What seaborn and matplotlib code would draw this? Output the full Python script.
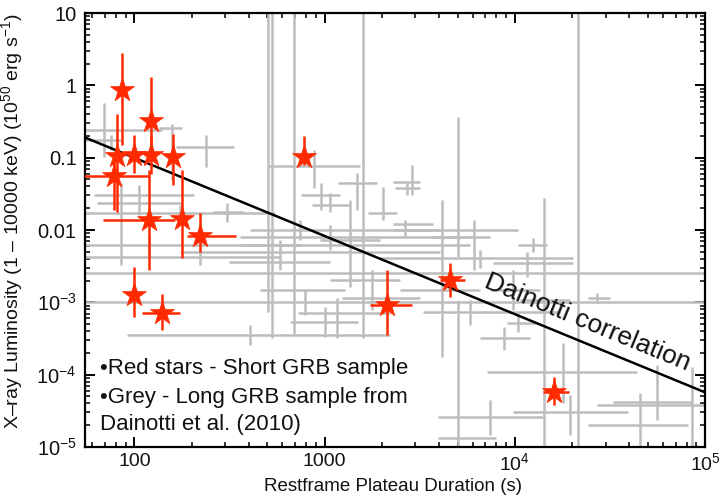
import numpy as np
import pandas as pd
import matplotlib
matplotlib.use("Agg")
import matplotlib.pyplot as plt
import seaborn as sns
from matplotlib.ticker import FixedLocator, LogLocator, NullFormatter, FixedFormatter

# ---------------- data ----------------
# Short GRB sample (red stars): plateau duration T (s) and luminosity L (1e50 erg/s)
short_T    = [86.5, 123, 81.5, 99, 123, 160, 78.5, 120, 179, 220, 99, 140, 775, 2120, 4550, 16000]
short_T_lo = [86.5, 123, 81.5, 99, 123, 160, 45, 68, 179, 188, 99, 109, 760, 1730, 4030, 14000]
short_T_hi = [86.5, 123, 81.5, 99, 123, 160, 120, 163, 179, 344, 99, 173, 790, 2870, 5450, 19200]
short_L    = [0.86, 0.32, 0.105, 0.109, 0.109, 0.102, 0.056, 0.0137, 0.0142, 0.0082, 0.00126, 0.00071, 0.102, 0.00091, 0.00203, 5.7e-5]
short_L_lo = [0.15, 0.13, 0.018, 0.061, 0.06, 0.042, 0.019, 0.0028, 0.0041, 0.0049, 0.00062, 0.00041, 0.079, 0.00035, 0.00118, 3.8e-5]
short_L_hi = [2.83, 1.30, 0.40, 0.206, 0.20, 0.212, 0.10, 0.068, 0.068, 0.017, 0.00307, 0.0013, 0.199, 0.0028, 0.0035, 9.2e-5]

# Long GRB sample (grey crosses), Dainotti et al. (2010)
long_T    = [69.5, 75.7, 158, 237, 106, 85.5, 173, 308, 120, 220, 21500, 785, 502, 532, 687, 1585,
             5015, 14200, 45489, 55900, 85500, 5015, 4130, 17900, 8750, 10400, 9770, 27000, 11560,
             12450, 6080, 2870, 2700, 2020, 2640, 1473, 953, 1063, 875, 1355, 739, 1063, 580, 1156,
             1000, 403, 1767, 5797, 7387, 19476, 6544]
long_T_lo = [30, 30, 135, 166, 61.6, 63.8, 30, 258, 30, 30, 30, 30, 357, 316, 455, 1063,
             3571, 10626, 24200, 32800, 27000, 3935, 2483, 7130, 6544, 9080, 7387, 24200, 7660,
             10400, 2280, 2280, 2335, 1685, 2280, 1170, 748, 855, 502, 942, 403, 357, 173, 655,
             721, 91.8, 1228, 3280, 3935, 9770, 1948]
long_T_hi = [139, 85.5, 177, 336, 207, 177, 546, 379, 5797, 580, 2e5, 2e5, 739, 1063, 1274, 2483,
             7387, 19476, 81500, 85500, 2e5, 7950, 6544, 43800, 11995, 13060, 13540, 31600, 20200,
             14700, 10400, 3163, 3163, 2390, 3700, 1878, 1200, 1355, 1529, 1948, 4030, 5797, 4030, 1493,
             2199, 2199, 3163, 17254, 14000, 39300, 20200]
long_L    = [0.241, 0.175, 0.256, 0.140, 0.0304, 0.0236, 0.0171, 0.0177, 0.00618, 0.00422, 0.00254, 0.00101,
             0.00618, 0.0036, 0.00148, 0.00203, 0.00798, 0.00107, 2.0e-5, 4.17e-5, 3.8e-5, 1.32e-5, 0.00148,
             1.08e-4, 3.2e-4, 5.15e-4, 0.00148, 0.00114, 0.00348, 0.00618, 0.00998, 0.046, 0.038, 0.0171,
             0.0120, 0.0446, 0.0304, 0.0221, 0.0766, 0.00725, 0.00998, 0.00798, 0.00494, 5.3e-4, 7.1e-4,
             3.5e-4, 0.00114, 7.3e-4, 2.58e-5, 3.03e-5, 0.00408]
long_L_lo = [0.102, 0.127, 0.049, 0.074, 0.0161, 0.00327, 0.0128, 0.0128, 0.0045, 0.00327, 5e-6, 6.65e-4,
             7.3e-4, 3.2e-4, 3.5e-4, 3.2e-4, 0.00422, 5e-6, 5e-6, 2.35e-5, 5e-6, 5e-6, 1.75e-4,
             4.0e-5, 2.18e-4, 3.87e-4, 7.8e-4, 9.7e-4, 0.00223, 0.00494, 0.00279, 0.0304, 0.0304, 0.0137,
             0.00798, 0.0189, 0.0189, 0.0177, 0.038, 0.00162, 0.00725, 0.00527, 0.00279, 3.2e-4, 3.3e-4,
             2.56e-4, 7.8e-4, 4.84e-4, 1.46e-5, 1.46e-5, 0.00297]
long_L_hi = [0.57, 0.206, 0.29, 0.206, 0.042, 0.0446, 0.0221, 0.0236, 0.0085, 0.00527, 30, 0.00148,
             30, 30, 30, 30, 0.365, 0.0276, 5.5e-5, 1.35e-4, 1.27e-4, 0.00107, 0.0259,
             2.73e-4, 4.5e-4, 7.1e-4, 0.00279, 0.00134, 0.00494, 0.00773, 0.0137, 0.079, 0.0446, 0.039,
             0.0137, 0.0612, 0.0446, 0.0324, 0.127, 0.0259, 0.0137, 0.0117, 0.00725, 0.00114, 8.6e-4,
             4.84e-4, 0.00279, 0.00107, 4.4e-5, 5.2e-5, 0.00527]

# Dainotti correlation line (end points)
line_T = [55, 1e5]
line_L = [0.19, 5.7e-5]

x_ticks = [100, 1000, 1e4, 1e5]
x_tick_labels = ["100", "1000", "10$^4$", "10$^5$"]
y_ticks = [1e-5, 1e-4, 1e-3, 1e-2, 1e-1, 1, 10]
y_tick_labels = ["10$^{-5}$", "10$^{-4}$", "10$^{-3}$", "0.01", "0.1", "1", "10"]

legend_lines = ["\u2022Red stars - Short GRB sample",
                "\u2022Grey - Long GRB sample from",
                "Dainotti et al. (2010)"]

# ---------------- style ----------------
sns.set_theme(style="ticks")
plt.rcParams["font.family"] = ["Liberation Sans", "DejaVu Sans"]
plt.rcParams["mathtext.fontset"] = "custom"
plt.rcParams["mathtext.rm"] = "Liberation Sans"
plt.rcParams["mathtext.it"] = "Liberation Sans:italic"
plt.rcParams["mathtext.bf"] = "Liberation Sans:bold"
plt.rcParams["axes.unicode_minus"] = True

RED = "#ff2a00"
GREY = "#bdbdbd"

fig = plt.figure(figsize=(7.21, 4.98), dpi=100)
ax = fig.add_axes([85 / 721, 1 - 447 / 498, 620 / 721, 434 / 498])
ax.set_xscale("log")
ax.set_yscale("log")

long_df = pd.DataFrame({"T": long_T, "Tlo": long_T_lo, "Thi": long_T_hi,
                        "L": long_L, "Llo": long_L_lo, "Lhi": long_L_hi})
short_df = pd.DataFrame({"T": short_T, "Tlo": short_T_lo, "Thi": short_T_hi,
                         "L": short_L, "Llo": short_L_lo, "Lhi": short_L_hi})

def asym(df):
    xerr = np.vstack([df["T"] - df["Tlo"], df["Thi"] - df["T"]])
    yerr = np.vstack([df["L"] - df["Llo"], df["Lhi"] - df["L"]])
    return xerr, yerr

xe, ye = asym(long_df)
ax.errorbar(long_df["T"], long_df["L"], xerr=xe, yerr=ye, fmt="none",
            ecolor=GREY, elinewidth=1.8, capsize=0, zorder=1)

sns.lineplot(x=line_T, y=line_L, color="black", linewidth=1.8, ax=ax, zorder=3,
             estimator=None, sort=False)

xe, ye = asym(short_df)
ax.errorbar(short_df["T"], short_df["L"], xerr=xe, yerr=ye, fmt="none",
            ecolor=RED, elinewidth=1.8, capsize=0, zorder=4)
sns.scatterplot(data=short_df, x="T", y="L", marker="*", s=330, color=RED,
                edgecolor=RED, linewidth=0.5, ax=ax, zorder=5, legend=False)

ax.set_xlim(55, 1e5)
ax.set_ylim(1e-5, 10)

ax.xaxis.set_major_locator(FixedLocator(x_ticks))
ax.xaxis.set_major_formatter(FixedFormatter(x_tick_labels))
ax.xaxis.set_minor_locator(LogLocator(base=10, subs=np.arange(2, 10)))
ax.xaxis.set_minor_formatter(NullFormatter())
ax.yaxis.set_major_locator(FixedLocator(y_ticks))
ax.yaxis.set_major_formatter(FixedFormatter(y_tick_labels))
ax.yaxis.set_minor_locator(LogLocator(base=10, subs=np.arange(2, 10)))
ax.yaxis.set_minor_formatter(NullFormatter())

ax.tick_params(which="both", direction="in", top=True, right=True, color="black",
               labelcolor="#111111")
ax.tick_params(which="major", length=7, width=1.4)
ax.tick_params(which="minor", length=3.5, width=1.1)
ax.tick_params(axis="x", which="major", pad=4, labelsize=14)
ax.tick_params(axis="y", which="major", pad=6, labelsize=14.5)
for s in ax.spines.values():
    s.set_linewidth(1.6)
    s.set_color("black")

ax.set_xlabel("Restframe Plateau Duration (s)", fontsize=13.5, color="#111111")
ax.set_ylabel("X\u2013ray Luminosity (1 \u2013 10000 keV) (10$^{50}$ erg s$^{-1}$)",
              fontsize=14, color="#111111")
ax.xaxis.set_label_coords(0.497, -0.071)
ax.yaxis.set_label_coords(-0.097, 0.52)

# Dainotti correlation label, rotated along the line
fig.canvas.draw()
p0 = ax.transData.transform((line_T[0], line_L[0]))
p1 = ax.transData.transform((line_T[1], line_L[1]))
angle = np.degrees(np.arctan2(p1[1] - p0[1], p1[0] - p0[0]))
ax.text(24200, 5.3e-4, "Dainotti correlation", fontsize=19, rotation=angle,
        rotation_mode="anchor", ha="center", va="center", color="#111111", zorder=6)

for i, (txt, yy) in enumerate(zip(legend_lines, [0.180, 0.115, 0.051])):
    ax.text(0.024, yy, txt, transform=ax.transAxes, fontsize=16, ha="left",
            va="center", color="#111111", zorder=6)

fig.savefig("out.png", dpi=100)
